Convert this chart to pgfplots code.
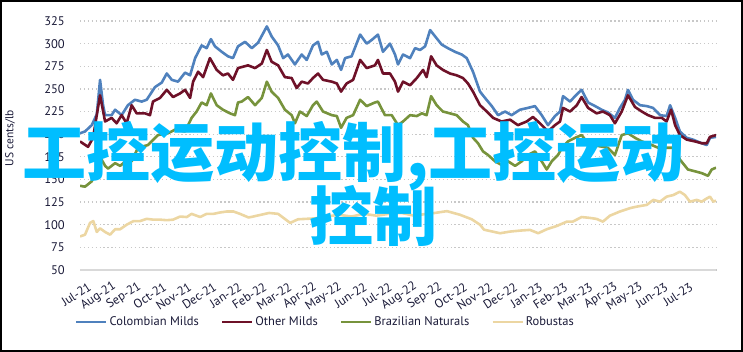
\documentclass[border=0pt]{standalone}
\usepackage{pgfplots}
\pgfplotsset{compat=1.18}
\usepackage{fontspec}
\setmainfont{PT Sans}
\newfontfamily\cjk{Noto Sans CJK SC}
\definecolor{colm}{RGB}{79,129,189}
\definecolor{othm}{RGB}{110,17,40}
\definecolor{braz}{RGB}{119,147,60}
\definecolor{robu}{RGB}{236,214,162}
\definecolor{wm}{RGB}{0,190,255}
\definecolor{gridc}{RGB}{200,200,200}
\definecolor{axc}{RGB}{217,217,217}
\definecolor{txt}{RGB}{25,25,55}
\begin{document}
\begin{tikzpicture}
\useasboundingbox (0,0) rectangle (743pt,352pt);
\begin{axis}[
  at={(80pt,82pt)}, anchor=south west,
  scale only axis, width=636pt, height=249pt,
  xmin=-0.32, xmax=25.04, ymin=50, ymax=325,
  axis lines=left,
  axis line style={-},
  x axis line style={draw=axc, line width=1.3pt},
  y axis line style={draw=none},
  ytick={50,75,...,325},
  xtick={0,...,24},
  xticklabels={Jul-21,Aug-21,Sep-21,Oct-21,Nov-21,Dec-21,Jan-22,Feb-22,Mar-22,Apr-22,May-22,Jun-22,Jul-22,Aug-22,Sep-22,Oct-22,Nov-22,Dec-22,Jan-23,Feb-23,Mar-23,Apr-23,May-23,Jun-23,Jul-23},
  major tick length=0pt,
  tick style={draw=none},
  ymajorgrids,
  grid style={gridc, line width=1.2pt, dash pattern=on 1.3pt off 2.6pt},
  /pgf/number format/assume math mode=true,
  yticklabel style={font=\fontsize{12.5}{14}\selectfont, text=txt, inner sep=0pt, anchor=east, xshift=-15pt},
  xticklabel style={font=\fontsize{12.5}{13}\selectfont, text=txt, inner sep=0pt, rotate=33, anchor=east, yshift=-14pt, xshift=-7pt},
  ylabel={US cents/lb},
  ylabel style={font=\fontsize{11.5}{13}\selectfont, text=txt, at={(axis description cs:-0.11,0.53)}, anchor=center, rotate=0},
  legend columns=4,
  legend style={at={(axis description cs:0.386,-0.209)}, anchor=center, draw=none, fill=none, font=\fontsize{12.5}{14}\selectfont, text=txt, inner sep=0pt, /tikz/every even column/.append style={column sep=20pt}},
  legend image code/.code={\draw[#1, line width=2.5pt] (0pt,0pt) -- (30pt,0pt);},
  line join=round,
]
\addplot[colm, line width=2.6pt] coordinates {
(-0.32,201) (-0.12,203) (0.15,210) (0.35,222) (0.48,260) (0.60,232) (0.68,221) (0.94,221) (1.08,227) (1.34,221) (1.59,232) (1.87,238) (2.14,236) (2.34,238) (2.67,252) (2.94,257) (3.14,267) (3.34,260) (3.59,258) (3.87,268) (4.07,265) (4.27,284) (4.53,298) (4.73,295) (4.90,305) (5.06,297) (5.33,291) (5.58,286) (5.78,284) (5.98,297) (6.26,302) (6.53,295) (6.78,301) (7.13,319) (7.32,308) (7.58,298) (7.78,284) (7.97,288) (8.25,277) (8.52,288) (8.72,282) (8.97,298) (9.17,302) (9.32,288) (9.52,291) (9.72,277) (9.92,282) (10.09,271) (10.25,284) (10.51,286) (10.85,310) (11.11,300) (11.31,304) (11.56,310) (11.76,291) (12.04,300) (12.24,288) (12.36,277) (12.56,288) (12.84,284) (13.04,295) (13.24,293) (13.44,297) (13.64,315) (13.84,308) (14.10,299) (14.35,295) (14.63,291) (14.90,288) (15.10,284) (15.35,269) (15.63,247) (15.83,240) (16.10,231) (16.35,221) (16.63,225) (16.89,221) (17.22,227) (17.54,229) (17.82,231) (18.09,221) (18.34,210) (18.62,220) (18.82,225) (18.94,242) (19.22,236) (19.42,242) (19.68,249) (19.94,235) (20.22,231) (20.48,227) (20.73,224) (21.01,218) (21.21,229) (21.41,238) (21.53,249) (21.73,238) (22.01,232) (22.28,231) (22.53,229) (22.81,221) (23.07,220) (23.21,232) (23.41,218) (23.60,203) (23.87,196) (24.12,194) (24.47,190) (24.67,188) (24.80,196) (25.04,197)
};
\addlegendentry{Colombian Milds}
\addplot[othm, line width=2.6pt] coordinates {
(-0.32,192) (0.00,186) (0.20,196) (0.48,243) (0.68,214) (0.94,218) (1.14,212) (1.34,221) (1.54,212) (1.74,232) (1.94,223) (2.27,223) (2.47,221) (2.59,236) (2.87,240) (3.14,249) (3.39,241) (3.67,245) (3.87,249) (4.07,240) (4.19,258) (4.39,269) (4.59,263) (4.86,284) (5.13,271) (5.38,265) (5.58,267) (5.78,260) (5.98,273) (6.38,276) (6.66,273) (6.93,278) (7.13,293) (7.32,280) (7.58,276) (7.85,263) (8.12,262) (8.32,251) (8.52,258) (8.77,256) (8.97,262) (9.17,267) (9.37,260) (9.72,258) (9.92,256) (10.09,247) (10.31,256) (10.57,260) (10.85,282) (11.11,273) (11.44,276) (11.56,282) (11.76,267) (12.04,267) (12.24,258) (12.36,247) (12.56,258) (12.84,254) (13.11,262) (13.36,271) (13.50,263) (13.68,286) (13.90,276) (14.15,271) (14.43,267) (14.70,265) (14.95,262) (15.15,256) (15.35,247) (15.63,232) (15.90,225) (16.15,218) (16.49,214) (16.83,216) (17.14,210) (17.49,214) (17.74,219) (18.02,212) (18.34,203) (18.62,210) (18.82,214) (18.94,229) (19.22,225) (19.49,232) (19.68,241) (19.94,229) (20.28,223) (20.53,225) (20.81,221) (21.01,212) (21.28,225) (21.53,243) (21.81,230) (22.08,225) (22.33,221) (22.61,218) (22.88,218) (23.07,214) (23.25,227) (23.41,210) (23.60,199) (23.87,194) (24.20,192) (24.47,190) (24.67,190) (24.80,197) (25.04,199)
};
\addlegendentry{Other Milds}
\addplot[braz, line width=2.6pt] coordinates {
(-0.32,143) (-0.12,142) (0.15,148) (0.28,156) (0.40,170) (0.48,175) (0.68,165) (0.80,162) (1.08,168) (1.28,165) (1.54,171) (1.74,170) (1.99,185) (2.39,188) (2.79,199) (3.19,201) (3.47,205) (3.87,203) (4.13,218) (4.33,225) (4.53,235) (4.73,232) (4.90,245) (5.13,232) (5.38,227) (5.66,223) (5.86,221) (5.98,235) (6.13,236) (6.38,241) (6.66,232) (6.93,240) (7.13,258) (7.32,247) (7.58,240) (7.85,227) (8.12,221) (8.25,212) (8.45,225) (8.72,220) (8.97,232) (9.12,236) (9.37,225) (9.72,221) (9.92,220) (10.09,207) (10.31,218) (10.57,221) (10.85,238) (11.11,231) (11.44,235) (11.56,236) (11.84,221) (12.11,221) (12.36,210) (12.56,214) (12.84,221) (13.11,220) (13.31,223) (13.50,221) (13.68,242) (13.90,232) (14.15,225) (14.43,223) (14.70,221) (14.95,214) (15.15,210) (15.35,196) (15.55,190) (15.75,181) (15.95,177) (16.23,170) (16.49,166) (16.75,170) (17.03,165) (17.29,170) (17.54,177) (17.82,181) (18.09,170) (18.29,161) (18.49,170) (18.74,177) (18.90,185) (19.14,192) (19.42,196) (19.68,199) (19.94,190) (20.33,187) (20.73,185) (21.01,177) (21.28,199) (21.53,201) (21.81,196) (22.08,192) (22.48,188) (22.73,185) (23.13,185) (23.41,185) (23.60,172) (23.92,161) (24.20,159) (24.47,157) (24.72,154) (24.87,161) (25.04,163)
};
\addlegendentry{Brazilian Naturals}
\addplot[robu, line width=2.6pt] coordinates {
(-0.32,87) (-0.12,89) (0.08,102) (0.21,104) (0.35,92) (0.48,96) (0.68,92) (0.88,89) (1.08,95) (1.28,95) (1.54,100) (1.81,104) (2.07,104) (2.34,106.5) (2.60,105.6) (2.87,105.6) (3.14,105) (3.39,105.6) (3.67,109) (3.94,108.5) (4.13,112) (4.47,108.5) (4.73,112) (5.00,112) (5.26,113.5) (5.53,114.6) (5.80,114.6) (6.06,112) (6.40,108) (6.58,109) (7.22,113) (7.58,112) (8.06,102) (8.37,106) (9.05,107) (9.5,109) (10.0,111) (10.5,109) (11.0,112) (11.5,110) (12.0,112) (12.5,113) (13.0,110) (13.5,112) (13.83,113) (14.31,115) (14.83,111) (15.3,106) (15.63,100) (15.79,94.5) (16.43,90.6) (16.82,92.4) (17.22,93.5) (17.62,94.3) (17.95,90.6) (18.29,95) (18.69,98.6) (19.09,103.4) (19.33,103.4) (19.68,108.5) (20.02,107.5) (20.28,106.4) (20.53,103.4) (20.81,110) (21.21,114.6) (21.61,118.3) (21.88,120) (22.28,121.9) (22.54,127.4) (22.81,125.5) (23.07,131) (23.34,132.8) (23.60,136.5) (23.80,132.8) (24.00,125.5) (24.27,127.4) (24.47,125.5) (24.67,129) (24.80,131) (24.93,125.5) (25.04,126.6)
};
\addlegendentry{Robustas}
\end{axis}
\node[anchor=base west, inner sep=0pt, text=wm, font=\cjk\bfseries\fontsize{64}{64}\selectfont] at (22pt,175pt) {工控运动控制,工控运动};
\node[anchor=base west, inner sep=0pt, text=wm, font=\cjk\bfseries\fontsize{64}{64}\selectfont] at (309pt,111pt) {控制};
\draw[black, line width=2pt] (1pt,1pt) rectangle (742pt,351pt);
\end{tikzpicture}
\end{document}
